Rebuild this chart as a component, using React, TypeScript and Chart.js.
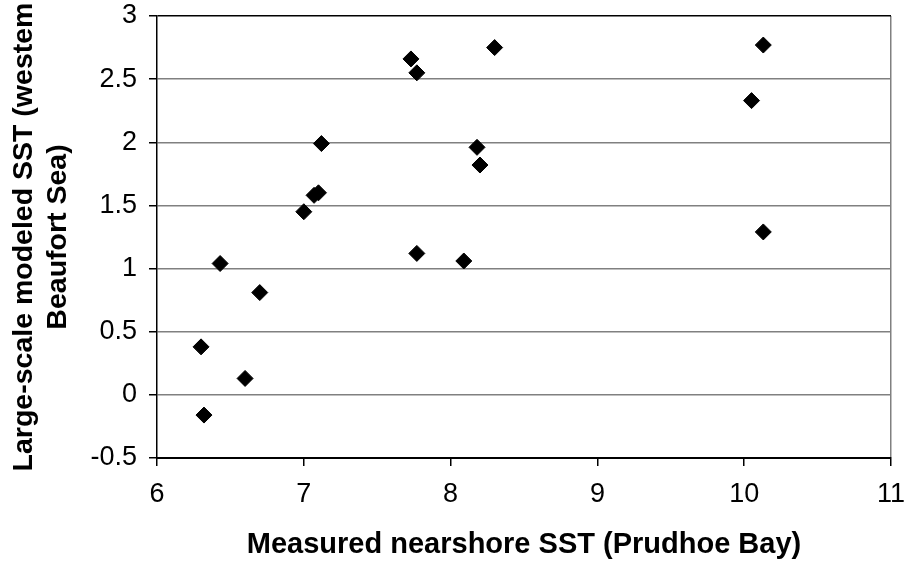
import React, { useEffect, useRef } from "react";
import { Chart, registerables } from "chart.js";

Chart.register(...registerables);

const measuredSST: number[] = [6.30, 6.32, 6.43, 6.60, 6.70, 7.00, 7.07, 7.10, 7.12, 7.73, 7.77, 7.77, 8.09, 8.18, 8.20, 8.30, 10.05, 10.13, 10.13];
const modeledSST: number[] = [0.38, -0.16, 1.04, 0.13, 0.81, 1.45, 1.58, 1.60, 1.99, 2.66, 2.55, 1.12, 1.06, 1.96, 1.82, 2.75, 2.33, 2.77, 1.29];

const xMin = 6;
const xMax = 11;
const xStep = 1;
const yMin = -0.5;
const yMax = 3;
const yStep = 0.5;

const xTitle = "Measured nearshore SST (Prudhoe Bay)";
const yTitle = ["Large-scale modeled SST (westem", "Beaufort Sea)"];

const FONT = "'Liberation Sans', Arial, sans-serif";

const fmt = (v: any) => String(Math.round(Number(v) * 10) / 10);

export default function App() {
  const canvasRef = useRef<HTMLCanvasElement | null>(null);

  useEffect(() => {
    document.body.style.margin = "0";
    const canvas = canvasRef.current;
    if (!canvas) return;
    const points = measuredSST.map((x, i) => ({ x, y: modeledSST[i] }));
    const chart = new Chart(canvas, {
      type: "scatter",
      data: {
        datasets: [
          {
            label: "SST",
            data: points,
            pointStyle: "rectRot",
            pointRadius: 8,
            pointHoverRadius: 8,
            backgroundColor: "#000",
            borderColor: "#000",
            borderWidth: 1,
          },
        ],
      },
      options: {
        animation: false,
        responsive: true,
        maintainAspectRatio: false,
        layout: { autoPadding: false, padding: { top: 16, right: 16, left: 0, bottom: 0 } },
        plugins: {
          legend: { display: false },
          tooltip: { enabled: false },
        },
        scales: {
          x: {
            type: "linear",
            min: xMin,
            max: xMax,
            ticks: {
              stepSize: xStep,
              color: "#000",
              padding: 12,
              font: { family: FONT, size: 27 },
              callback: fmt,
            },
            grid: {
              drawOnChartArea: true,
              color: (ctx: any) => (ctx.tick && ctx.tick.value === xMax ? "#808080" : "rgba(0,0,0,0)"),
              tickColor: "#000",
              tickLength: 8,
              lineWidth: 1.5,
            },
            border: { display: true, color: "#000", width: 2 },
            title: {
              display: true,
              text: xTitle,
              color: "#000",
              font: { family: FONT, size: 29, weight: "bold", lineHeight: 1.2 },
              padding: { top: 0, bottom: 2 },
            },
            afterFit: (scale: any) => {
              scale.height = 106;
              scale.paddingLeft = 0;
              scale.paddingRight = 0;
            },
          },
          y: {
            type: "linear",
            min: yMin,
            max: yMax,
            ticks: {
              stepSize: yStep,
              color: "#000",
              padding: 12,
              font: { family: FONT, size: 27 },
              callback: fmt,
            },
            grid: {
              color: (ctx: any) => (ctx.tick && ctx.tick.value === yMax ? "#000" : "#808080"),
              tickColor: "#000",
              tickLength: 8,
              lineWidth: 1.5,
            },
            border: { display: true, color: "#000", width: 1.5 },
            title: {
              display: true,
              text: yTitle,
              color: "#000",
              font: { family: FONT, size: 28.5, weight: "bold", lineHeight: 1.19 },
              padding: { top: 7, bottom: 0 },
            },
            afterFit: (scale: any) => {
              scale.width = 157;
              scale.paddingTop = 0;
              scale.paddingBottom = 0;
            },
          },
        },
      },
    });
    return () => {
      chart.destroy();
    };
  }, []);

  return (
    <div style={{ position: "relative", width: 907, height: 564, background: "#fff" }}>
      <canvas ref={canvasRef} />
    </div>
  );
}
